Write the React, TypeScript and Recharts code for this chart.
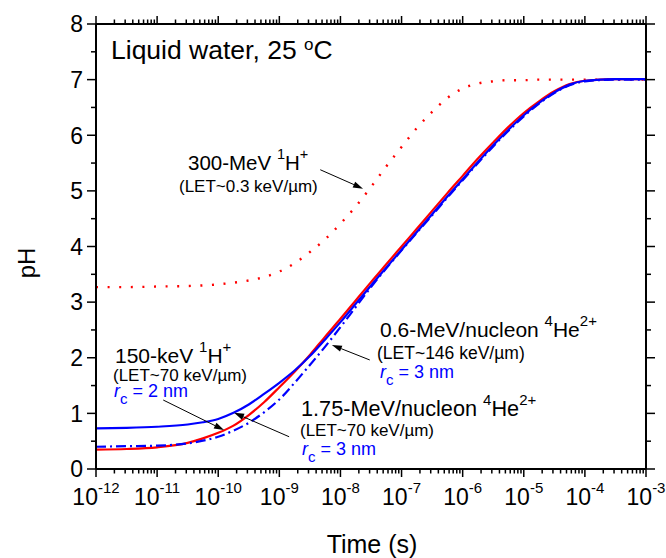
import React from "react";
import { LineChart, Line, XAxis, YAxis, ReferenceLine } from "recharts";

const FONT = "'Liberation Sans', Arial, Helvetica, sans-serif";

// time grid, given as log10(time / s)
const timeExponents = [
  -12, -11.5, -11, -10.5, -10.25, -10, -9.75, -9.5, -9.25, -9, -8.75, -8.5, -8.25, -8,
  -7.75, -7.5, -7.25, -7, -6.75, -6.5, -6.25, -6, -5.75, -5.5, -5.25, -5, -4.75, -4.5,
  -4.25, -4, -3.5, -3,
];

// 300-MeV 1H+ (red dotted)
const pH300MeV = [
  3.27, 3.27, 3.28, 3.29, 3.3, 3.32, 3.35, 3.39, 3.45, 3.55, 3.7, 3.9, 4.13, 4.41,
  4.72, 5.07, 5.44, 5.79, 6.13, 6.42, 6.67, 6.84, 6.93, 6.97, 6.99, 6.99, 7.0, 7.0,
  7.0, 7.0, 7.0, 7.0,
];
// 150-keV 1H+ (red solid)
const pH150keV = [
  0.35, 0.36, 0.39, 0.47, 0.55, 0.65, 0.78, 0.97, 1.2, 1.47, 1.75, 2.05, 2.38, 2.7,
  3.03, 3.36, 3.68, 4.0, 4.32, 4.64, 4.96, 5.27, 5.58, 5.87, 6.15, 6.4, 6.61, 6.79,
  6.92, 6.98, 7.01, 7.01,
];
// 1.75-MeV/nucleon 4He2+ (blue solid)
const pH175MeVHe = [
  0.73, 0.74, 0.76, 0.8, 0.84, 0.9, 1.01, 1.16, 1.35, 1.55, 1.77, 2.03, 2.33, 2.64,
  2.97, 3.3, 3.62, 3.94, 4.26, 4.58, 4.9, 5.21, 5.52, 5.82, 6.1, 6.36, 6.58, 6.77,
  6.91, 6.98, 7.01, 7.01,
];
// 0.6-MeV/nucleon 4He2+ (blue dash-dot)
const pH06MeVHe = [
  0.4, 0.41, 0.42, 0.46, 0.51, 0.58, 0.69, 0.83, 1.02, 1.25, 1.55, 1.87, 2.2, 2.55,
  2.91, 3.27, 3.61, 3.93, 4.25, 4.56, 4.88, 5.19, 5.5, 5.8, 6.08, 6.34, 6.57, 6.76,
  6.9, 6.97, 7.0, 7.0,
];

// axis ticks
const decadeExponents = [-12, -11, -10, -9, -8, -7, -6, -5, -4, -3];
const minorMultipliers = [2, 3, 4, 5, 6, 7, 8, 9];
const yTicks = [0, 0.5, 1, 1.5, 2, 2.5, 3, 3.5, 4, 4.5, 5, 5.5, 6, 6.5, 7, 7.5, 8];

// annotation arrows: [log10 time, pH] from -> to
const arrows = [
  { from: [-8.33, 5.38], to: [-7.63, 5.04] },
  { from: [-10.9, 1.24], to: [-9.905, 0.7] },
  { from: [-8.84, 0.58], to: [-9.74, 1.01] },
  { from: [-7.52, 1.96], to: [-8.14, 2.23] },
];

const data = timeExponents.map((e, i) => ({
  t: Math.pow(10, e),
  h300: pH300MeV[i],
  h150: pH150keV[i],
  he175: pH175MeVHe[i],
  he06: pH06MeVHe[i],
}));

const xTicks: number[] = [];
decadeExponents.forEach((e, i) => {
  xTicks.push(Math.pow(10, e));
  if (i < decadeExponents.length - 1) {
    minorMultipliers.forEach((m) => xTicks.push(m * Math.pow(10, e)));
  }
});

const isMajorX = (v: number) => {
  const l = Math.log10(v);
  return Math.abs(l - Math.round(l)) < 1e-6;
};

const XTickBottom = (props: any) => {
  const { x, y, payload } = props;
  const v = payload.value;
  const major = isMajorX(v);
  const exp = Math.round(Math.log10(v));
  return (
    <g>
      <line x1={x} x2={x} y1={y} y2={y + (major ? 8 : 4.5)} stroke="#000" strokeWidth={1.5} />
      {major && (
        <text x={x} y={y + 36} textAnchor="middle" fontSize={23} fontFamily={FONT} fill="#000">
          10
          <tspan dy={-12} fontSize={15}>
            {String(exp)}
          </tspan>
        </text>
      )}
    </g>
  );
};

const XTickTop = (props: any) => {
  const { x, y, payload } = props;
  const major = isMajorX(payload.value);
  return <line x1={x} x2={x} y1={y} y2={y - (major ? 8 : 4.5)} stroke="#000" strokeWidth={1.5} />;
};

const YTickLeft = (props: any) => {
  const { x, y, payload } = props;
  const v = payload.value;
  const major = Number.isInteger(v);
  return (
    <g>
      <line x1={x - (major ? 9 : 5)} x2={x} y1={y} y2={y} stroke="#000" strokeWidth={1.5} />
      {major && (
        <text x={x - 13} y={y} dy="0.36em" textAnchor="end" fontSize={23} fontFamily={FONT} fill="#000">
          {v}
        </text>
      )}
    </g>
  );
};

const YTickRight = (props: any) => {
  const { x, y, payload } = props;
  const major = Number.isInteger(payload.value);
  return <line x1={x} x2={x + (major ? 9 : 5)} y1={y} y2={y} stroke="#000" strokeWidth={1.5} />;
};

const ArrowShape = (p: any) => {
  const { x1, y1, x2, y2 } = p;
  const ang = Math.atan2(y2 - y1, x2 - x1);
  const L = 10;
  const W = 3.2;
  const bx = x2 - L * Math.cos(ang);
  const by = y2 - L * Math.sin(ang);
  const px = -Math.sin(ang) * W;
  const py = Math.cos(ang) * W;
  return (
    <g>
      <line x1={x1} y1={y1} x2={bx} y2={by} stroke="#000" strokeWidth={1} />
      <polygon points={`${x2},${y2} ${bx + px},${by + py} ${bx - px},${by - py}`} fill="#000" />
    </g>
  );
};

const T = (props: any) => <text fontFamily={FONT} fill="#000" {...props} />;

export default function App() {
  return (
    <div style={{ position: "absolute", left: 0, top: 0, width: 666, height: 558, background: "#fff" }}>
      <LineChart width={666} height={558} data={data} margin={{ top: 0, right: 0, bottom: 0, left: 0 }}>
        <XAxis
          xAxisId="b"
          dataKey="t"
          type="number"
          scale="log"
          domain={[1e-12, 1e-3]}
          ticks={xTicks}
          interval={0}
          height={89}
          tickSize={0}
          tickMargin={0}
          tickLine={false}
          tick={<XTickBottom />}
          axisLine={{ stroke: "#000", strokeWidth: 2 }}
          allowDataOverflow
        />
        <XAxis
          xAxisId="t"
          orientation="top"
          dataKey="t"
          type="number"
          scale="log"
          domain={[1e-12, 1e-3]}
          ticks={xTicks}
          interval={0}
          height={24}
          tickSize={0}
          tickMargin={0}
          tickLine={false}
          tick={<XTickTop />}
          axisLine={{ stroke: "#000", strokeWidth: 2 }}
          allowDataOverflow
        />
        <YAxis
          yAxisId="l"
          type="number"
          domain={[0, 8]}
          ticks={yTicks}
          interval={0}
          width={96}
          tickSize={0}
          tickMargin={0}
          tickLine={false}
          tick={<YTickLeft />}
          axisLine={{ stroke: "#000", strokeWidth: 2 }}
          allowDataOverflow
        />
        <YAxis
          yAxisId="r"
          orientation="right"
          type="number"
          domain={[0, 8]}
          ticks={yTicks}
          interval={0}
          width={20}
          tickSize={0}
          tickMargin={0}
          tickLine={false}
          tick={<YTickRight />}
          axisLine={{ stroke: "#000", strokeWidth: 2 }}
          allowDataOverflow
        />
        <Line
          xAxisId="b"
          yAxisId="l"
          type="monotone"
          dataKey="h300"
          stroke="#ff0000"
          strokeWidth={2.4}
          strokeDasharray="2 9.6"
          dot={false}
          activeDot={false}
          isAnimationActive={false}
        />
        <Line
          xAxisId="b"
          yAxisId="l"
          type="monotone"
          dataKey="h150"
          stroke="#ff0000"
          strokeWidth={2.2}
          dot={false}
          activeDot={false}
          isAnimationActive={false}
        />
        <Line
          xAxisId="b"
          yAxisId="l"
          type="monotone"
          dataKey="he06"
          stroke="#0000ff"
          strokeWidth={2.2}
          strokeDasharray="10 4 2 4"
          dot={false}
          activeDot={false}
          isAnimationActive={false}
        />
        <Line
          xAxisId="b"
          yAxisId="l"
          type="monotone"
          dataKey="he175"
          stroke="#0000ff"
          strokeWidth={2.2}
          dot={false}
          activeDot={false}
          isAnimationActive={false}
        />
        {arrows.map((a, i) => (
          <ReferenceLine
            key={i}
            xAxisId="b"
            yAxisId="l"
            segment={[
              { x: Math.pow(10, a.from[0]), y: a.from[1] },
              { x: Math.pow(10, a.to[0]), y: a.to[1] },
            ]}
            shape={ArrowShape}
            ifOverflow="visible"
          />
        ))}
      </LineChart>
      <svg
        width={666}
        height={558}
        style={{ position: "absolute", left: 0, top: 0, pointerEvents: "none" }}
      >
        <T x={111} y={59} fontSize={26.5}>
          Liquid water, 25{" "}
          <tspan dy={-9} fontSize={17}>o</tspan>
          <tspan dy={9} fontSize={26.5}>C</tspan>
        </T>

        <T x={188} y={170} fontSize={20.5}>
          300-MeV{" "}
          <tspan dy={-11} fontSize={14.5}>1</tspan>
          <tspan dy={11} fontSize={20.5}>H</tspan>
          <tspan dy={-11} fontSize={14.5}>+</tspan>
        </T>
        <T x={179} y={192} fontSize={17}>(LET~0.3 keV/µm)</T>

        <T x={115} y={363} fontSize={21}>
          150-keV{" "}
          <tspan dy={-11} fontSize={15}>1</tspan>
          <tspan dy={11} fontSize={21}>H</tspan>
          <tspan dy={-11} fontSize={15}>+</tspan>
        </T>
        <T x={113} y={381} fontSize={17}>(LET~70 keV/µm)</T>
        <T x={114} y={397} fontSize={18} fill="#0000ff">
          <tspan fontStyle="italic">r</tspan>
          <tspan dy={7} fontSize={15}>c</tspan>
          <tspan dy={-7}> = 2 nm</tspan>
        </T>

        <T x={380} y={337} fontSize={21}>
          0.6-MeV/nucleon{" "}
          <tspan dy={-11} fontSize={15}>4</tspan>
          <tspan dy={11} fontSize={21}>He</tspan>
          <tspan dy={-11} fontSize={15}>2+</tspan>
        </T>
        <T x={377} y={359} fontSize={17.5}>(LET~146 keV/µm)</T>
        <T x={380} y={378} fontSize={18} fill="#0000ff">
          <tspan fontStyle="italic">r</tspan>
          <tspan dy={7} fontSize={15}>c</tspan>
          <tspan dy={-7}> = 3 nm</tspan>
        </T>

        <T x={301} y={416} fontSize={21.7}>
          1.75-MeV/nucleon{" "}
          <tspan dy={-11} fontSize={15}>4</tspan>
          <tspan dy={11} fontSize={21.7}>He</tspan>
          <tspan dy={-11} fontSize={15}>2+</tspan>
        </T>
        <T x={300} y={436} fontSize={17}>(LET~70 keV/µm)</T>
        <T x={302} y={455} fontSize={18} fill="#0000ff">
          <tspan fontStyle="italic">r</tspan>
          <tspan dy={7} fontSize={15}>c</tspan>
          <tspan dy={-7}> = 3 nm</tspan>
        </T>

        <T x={372} y={553} fontSize={25} textAnchor="middle">Time (s)</T>
        <T x={0} y={0} fontSize={24} textAnchor="middle" transform="translate(35 263) rotate(-90)">pH</T>
      </svg>
    </div>
  );
}
